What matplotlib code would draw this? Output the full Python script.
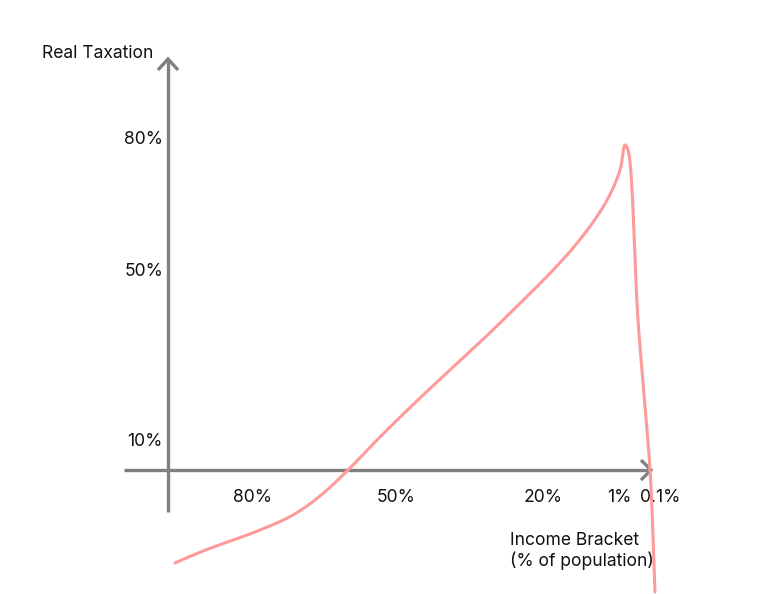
import matplotlib
matplotlib.use("Agg")
import matplotlib.pyplot as plt
import numpy as np

plt.rcParams['font.family'] = ['Inter', 'DejaVu Sans']

# Curve (x: distance right of y-axis, y: height above x-axis)
curve_x = [7, 35, 92, 125, 152, 180, 212, 252, 332, 405, 438, 452, 457, 460, 470, 482, 487]
curve_y = [-93, -81, -60, -45, -26, 0, 33, 72, 147, 222, 268, 300, 325, 320, 150, 0, -122]

y_tick_labels = ["80%", "50%", "10%"]
y_tick_pos = [331, 198, 28]
x_tick_labels = ["80%", "50%", "20%", "1%", "0.1%"]
x_tick_pos = [85, 228, 375, 451, 492]


def catmull_rom(xs, ys, n=30, alpha=0.5):
    p = np.column_stack([xs, ys]).astype(float)
    p = np.vstack([2 * p[0] - p[1], p, 2 * p[-1] - p[-2]])
    out = []
    for i in range(1, len(p) - 2):
        p0, p1, p2, p3 = p[i - 1], p[i], p[i + 1], p[i + 2]
        t0 = 0.0
        t1 = t0 + np.linalg.norm(p1 - p0) ** alpha
        t2 = t1 + np.linalg.norm(p2 - p1) ** alpha
        t3 = t2 + np.linalg.norm(p3 - p2) ** alpha
        t = np.linspace(t1, t2, n, endpoint=False)[:, None]
        a1 = (t1 - t) / (t1 - t0) * p0 + (t - t0) / (t1 - t0) * p1
        a2 = (t2 - t) / (t2 - t1) * p1 + (t - t1) / (t2 - t1) * p2
        a3 = (t3 - t) / (t3 - t2) * p2 + (t - t2) / (t3 - t2) * p3
        b1 = (t2 - t) / (t2 - t0) * a1 + (t - t0) / (t2 - t0) * a2
        b2 = (t3 - t) / (t3 - t1) * a2 + (t - t1) / (t3 - t1) * a3
        c = (t2 - t) / (t2 - t1) * b1 + (t - t1) / (t2 - t1) * b2
        out.append(c)
    out.append(p[-2][None, :])
    a = np.vstack(out)
    return a[:, 0], a[:, 1]


fig = plt.figure(figsize=(7.62, 5.94), dpi=100)
ax = fig.add_axes([0, 0, 1, 1])
ax.set_xlim(-168, 594)
ax.set_ylim(-124, 470)
ax.axis('off')

gray = '#808080'
lw = 2.4
# axes
ax.plot([0, 0], [-42, 410], color=gray, lw=lw, solid_capstyle='butt')
ax.plot([-44, 482], [0, 0], color=gray, lw=lw, solid_capstyle='butt')
# arrow heads
ax.plot([-10, 0, 10], [400, 411, 400], color=gray, lw=lw, solid_joinstyle='miter', solid_capstyle='butt')
ax.plot([473, 483, 473], [10, 0, -10], color=gray, lw=lw, solid_joinstyle='miter', solid_capstyle='butt')

cx, cy = catmull_rom(curve_x, curve_y)
ax.plot(cx, cy, color='#ff9a9a', lw=2.2, solid_capstyle='round', zorder=5)

fs = 12.6
for lab, y in zip(y_tick_labels, y_tick_pos):
    ax.text(-5, y, lab, ha='right', va='center', fontsize=fs, color='#111111')
for lab, x in zip(x_tick_labels, x_tick_pos):
    ax.text(x, -27, lab, ha='center', va='center', fontsize=fs, color='#111111')

ax.text(-15, 417, "Real Taxation", ha='right', va='center', fontsize=fs, color='#111111')
ax.text(342, -81, "Income Bracket\n(% of population)", ha='left', va='center',
        fontsize=fs, color='#111111', linespacing=1.15)

fig.savefig("out.png", dpi=100)
